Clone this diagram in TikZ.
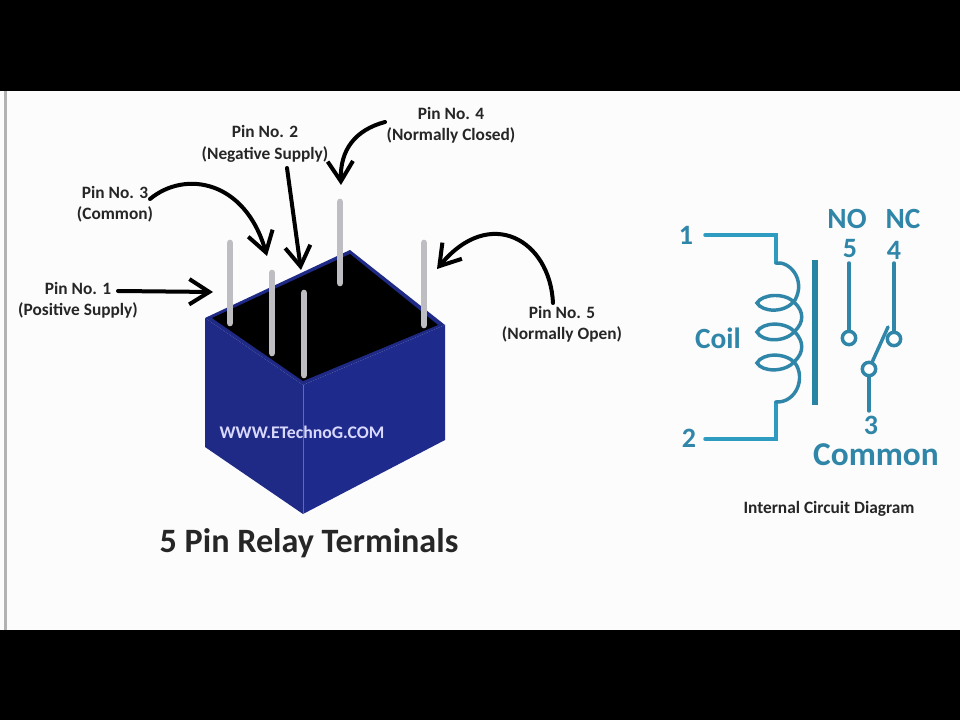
\documentclass[tikz,border=0pt]{standalone}
\usepackage{fontspec}
\setmainfont{Carlito}
\usetikzlibrary{arrows.meta}
\definecolor{teal1}{HTML}{2E9CC0}
\definecolor{teal2}{HTML}{2F86A8}
\definecolor{blueL}{HTML}{1F2A86}
\definecolor{blueR}{HTML}{1E2A8C}
\definecolor{pingray}{HTML}{BDBDC2}
\tikzset{
  x=0.75pt,y=-0.75pt,
  pointer/.style={line width=3pt,black,line cap=round,-{Straight Barb[length=15pt,width=19pt,line width=3pt]}},
  pinbar/.style={line width=5pt,pingray,line cap=round},
  lbl/.style={font=\fontsize{13}{16}\selectfont\bfseries,text=black!85,align=center,inner sep=0pt},
  wire/.style={line width=2.6pt,teal1,line cap=round,line join=miter},
  wired/.style={line width=2.6pt,teal2,line cap=round},
  num/.style={font=\fontsize{21}{24}\selectfont\bfseries,text=teal2,inner sep=0pt},
  ckt/.style={font=\fontsize{22}{24}\selectfont\bfseries,text=teal2,inner sep=0pt},
  contact/.style={circle,draw=teal2,line width=2.6pt,fill=white,minimum size=10pt,inner sep=0pt}
}
\begin{document}
\begin{tikzpicture}
\useasboundingbox (0,0) rectangle (960,720);
\fill[black] (0,0) rectangle (960,720);
\fill[white!98!gray] (0,91) rectangle (960,630);
\fill[white!40!gray] (4,91) rectangle (7,630);
% relay
\fill[blueL] (205,318) -- (303,385) -- (303,514) -- (205,447) -- cycle;
\fill[blueR] (303,385) -- (445,325) -- (445,440) -- (303,514) -- cycle;
\fill[blueL] (205,318) -- (350,250) -- (445,325) -- (303,385) -- cycle;
\fill[black] (212,318) -- (350,254) -- (438,325) -- (303,381) -- cycle;
\draw[blueR!70!white,line width=0.6pt] (303,385) -- (303,514);
% pins
\draw[pinbar] (230,243) -- (230,323);
\draw[pinbar] (272,273) -- (272,353);
\draw[pinbar] (304,293) -- (304,375);
\draw[pinbar] (340,202) -- (340,283);
\draw[pinbar] (424,243) -- (424,325);
% labels
\node[lbl] (p1) at (78,300) {Pin No. 1\\(Positive Supply)};
\node[lbl] (p3) at (115,204) {Pin No. 3\\(Common)};
\node[lbl] (p2) at (265,144) {Pin No. 2\\(Negative Supply)};
\node[lbl] (p4) at (451,125) {Pin No. 4\\(Normally Closed)};
\node[lbl] (p5) at (562,324) {Pin No. 5\\(Normally Open)};
\coordinate (a1) at (213,292);
\coordinate (a3) at (267,256);
\coordinate (a2) at (301,270);
\coordinate (a4) at (341,185);
\coordinate (a5) at (437,269);
\coordinate (s1) at (118,291);
\coordinate (s3) at (150,199);
\coordinate (s2) at (287,168);
\coordinate (s4) at (385,122);
\coordinate (s5) at (553,303);
\draw[pointer] (s1) -- (a1);
\draw[pointer] (s3) .. controls (185,170) and (245,180) .. (a3);
\draw[pointer] (s2) -- (a2);
\draw[pointer] (s4) .. controls (355,130) and (340,150) .. (a4);
\draw[pointer] (s5) .. controls (550,240) and (490,205) .. (a5);
\node[font=\fontsize{13.3}{16}\selectfont\bfseries,text=white!85!blue,inner sep=0pt] (www) at (302,432) {WWW.ETechnoG.COM};
\node[font=\fontsize{25.6}{28}\selectfont\bfseries,text=black!85,inner sep=0pt] (title) at (309,543) {5 Pin Relay Terminals};
% circuit
\node[num] (n1) at (686,235) {1};
\node[num] (n2) at (689,438) {2};
\node[ckt] (coil) at (718,338) {Coil};
\node[ckt] (no) at (847,219) {NO};
\node[ckt] (nc) at (903,219) {NC};
\node[num] (n5) at (850,249) {5};
\node[num] (n4) at (894,250) {4};
\node[num] (n3) at (871,425) {3};
\node[ckt,font=\fontsize{25}{26}\selectfont\bfseries] (com) at (876,455) {Common};
\node[font=\fontsize{13}{16}\selectfont\bfseries,text=black!85,inner sep=0pt] (int) at (829,509) {Internal Circuit Diagram};
\coordinate (c1) at (705,235);
\coordinate (c2) at (705,439);
\draw[wire] (c1) -- (776,235) -- (776,263);
\draw[wire] (c2) -- (776,439) -- (776,402);
% coil
\draw[wired] (776,263) .. controls (790,261) and (806,280) .. (795,300)
  .. controls (785,314) and (762,312) .. (757,303)
  .. controls (762,294) and (785,292) .. (795,303)
  .. controls (804,312) and (804,322) .. (795,331)
  .. controls (785,343) and (762,342) .. (757,332)
  .. controls (762,322) and (785,321) .. (795,332)
  .. controls (804,342) and (804,352) .. (795,361)
  .. controls (785,373) and (762,372) .. (757,363)
  .. controls (762,353) and (785,352) .. (795,363)
  .. controls (806,378) and (796,403) .. (776,402);
% core
\draw[line width=5pt,teal1!85!black] (815,260) -- (815,405);
% switch
\node[contact] (c5) at (849,338) {};
\node[contact] (c4) at (894,339) {};
\node[contact] (c3) at (869,369) {};
\coordinate (t5) at (849,263);
\coordinate (t4) at (894,263);
\coordinate (t3) at (869,411);
\coordinate (tip) at (888,327);
\draw[wired] (t5) -- (c5);
\draw[wired] (t4) -- (c4);
\draw[wired] (t3) -- (c3);
\draw[wired] (c3) -- (tip);
\end{tikzpicture}
\end{document}
